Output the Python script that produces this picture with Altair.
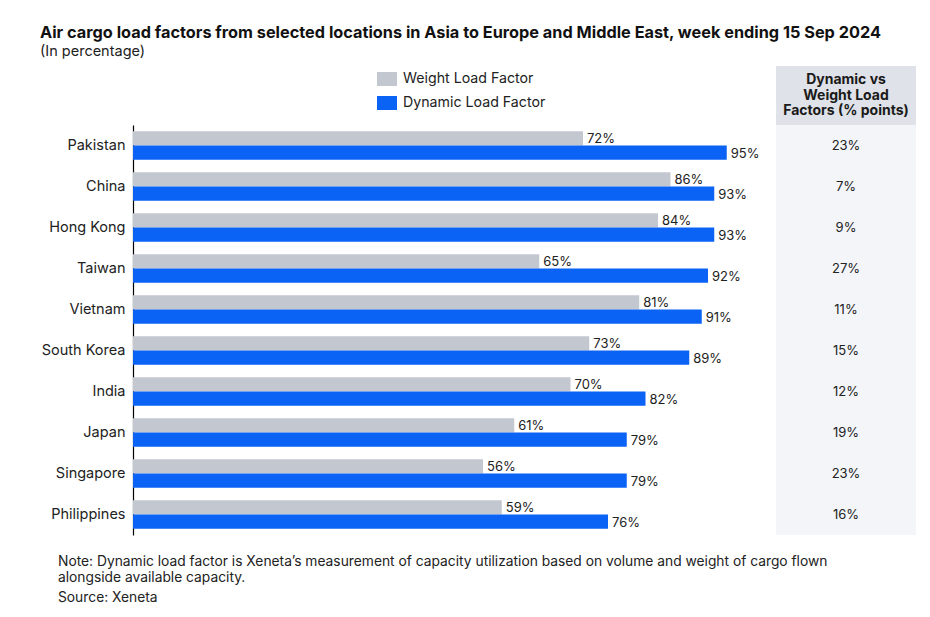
import altair as alt
import pandas as pd

countries = ["Pakistan", "China", "Hong Kong", "Taiwan", "Vietnam", "South Korea",
             "India", "Japan", "Singapore", "Philippines"]
weight_lf = [72, 86, 84, 65, 81, 73, 70, 61, 56, 59]
dynamic_lf = [95, 93, 93, 92, 91, 89, 82, 79, 79, 76]
diff_pts = [23, 7, 9, 27, 11, 15, 12, 19, 23, 16]
series = ["Weight Load Factor", "Dynamic Load Factor"]
colors = ["#c3c8d0", "#0a63f5"]

title = "Air cargo load factors from selected locations in Asia to Europe and Middle East, week ending 15 Sep 2024"
subtitle = "(In percentage)"
header_lines = ["Dynamic vs", "Weight Load", "Factors (% points)"]
notes = ["Note: Dynamic load factor is Xeneta\u2019s measurement of capacity utilization based on volume and weight of cargo flown",
         "alongside available capacity.",
         "Source: Xeneta"]

FONT = "Inter"

rows = []
for c, w, d in zip(countries, weight_lf, dynamic_lf):
    rows.append({"country": c, "series": series[0], "value": w, "label": f"{w}%"})
    rows.append({"country": c, "series": series[1], "value": d, "label": f"{d}%"})
df = pd.DataFrame(rows)
diff_df = pd.DataFrame({"country": countries, "label": [f"{v}%" for v in diff_pts]})

yscale = alt.Scale(domain=countries, paddingInner=0.3, paddingOuter=0.15)
xscale = alt.Scale(domain=[0, 100], nice=False)
off_scale = alt.Scale(domain=series, paddingInner=0, paddingOuter=0)

y_enc = alt.Y("country:N", scale=yscale, sort=countries,
              axis=alt.Axis(title=None, ticks=False, domain=True, domainColor="#000000",
                            domainWidth=1.2, labelFont=FONT, labelFontSize=14.5,
                            labelColor="#222222", labelPadding=8))

base = alt.Chart(df)

bars = base.mark_bar(cornerRadius=0).encode(
    y=y_enc,
    yOffset=alt.YOffset("series:N", scale=off_scale, sort=series),
    x=alt.X("value:Q", scale=xscale, axis=None),
    color=alt.Color("series:N", sort=series,
                    scale=alt.Scale(domain=series, range=colors),
                    legend=alt.Legend(title=None, orient="none", legendX=244, legendY=-56,
                                      symbolType="M-1,-0.7H1V0.7H-1Z", symbolSize=400,
                                      symbolStrokeWidth=0, symbolOpacity=1,
                                      labelFont=FONT, labelFontSize=14.2, labelColor="#222222",
                                      labelOffset=6, rowPadding=6)),
)

labels = base.mark_text(align="left", baseline="middle", dx=4, dy=1, font=FONT,
                        fontSize=13, color="#222222").encode(
    y=alt.Y("country:N", scale=yscale, sort=countries),
    yOffset=alt.YOffset("series:N", scale=off_scale, sort=series),
    x=alt.X("value:Q", scale=xscale),
    text="label:N",
)

# table panel
panel_df = pd.DataFrame({"k": ["body"]})
body_rect = alt.Chart(panel_df).mark_rect(color="#f3f5f9").encode(
    x=alt.value(643), x2=alt.value(783), y=alt.value(0), y2=alt.value(410))
head_rect = alt.Chart(panel_df).mark_rect(color="#dfe2e8").encode(
    x=alt.value(643), x2=alt.value(783), y=alt.value(-59), y2=alt.value(0))

head_texts = []
for i, line in enumerate(header_lines):
    head_texts.append(
        alt.Chart(pd.DataFrame({"t": [line]})).mark_text(
            align="center", baseline="middle", font=FONT, fontSize=14, fontWeight="bold",
            color="#1a1a1a").encode(x=alt.value(713), y=alt.value(-45 + i * 15.5), text="t:N"))

diff_text = alt.Chart(diff_df).mark_text(align="center", baseline="middle", font=FONT,
                                         fontSize=13, color="#222222").encode(
    y=alt.Y("country:N", scale=yscale, sort=countries),
    x=alt.value(713),
    text="label:N",
)

title_t = alt.Chart(pd.DataFrame({"t": [title]})).mark_text(
    align="left", baseline="middle", font=FONT, fontSize=16.3, fontWeight="bold",
    color="#111111").encode(x=alt.value(-93), y=alt.value(-92), text="t:N")
sub_t = alt.Chart(pd.DataFrame({"t": [subtitle]})).mark_text(
    align="left", baseline="middle", font=FONT, fontSize=14.5,
    color="#222222").encode(x=alt.value(-93), y=alt.value(-73), text="t:N")

note_layers = []
note_y = [437, 453, 473]
for line, yy in zip(notes, note_y):
    note_layers.append(
        alt.Chart(pd.DataFrame({"t": [line]})).mark_text(
            align="left", baseline="middle", font=FONT, fontSize=13.8,
            color="#222222").encode(x=alt.value(-75), y=alt.value(yy), text="t:N"))

chart = alt.layer(
    body_rect, head_rect, *head_texts, bars, labels, diff_text, title_t, sub_t, *note_layers
).properties(
    width=625, height=410,
    autosize=alt.AutoSizeParams(type="none"),
    padding={"left": 125, "top": 117, "right": 160, "bottom": 80},
    background="#ffffff",
).configure_view(stroke=None)

chart.save("out.html", embed_options={"renderer": "svg", "actions": False})
